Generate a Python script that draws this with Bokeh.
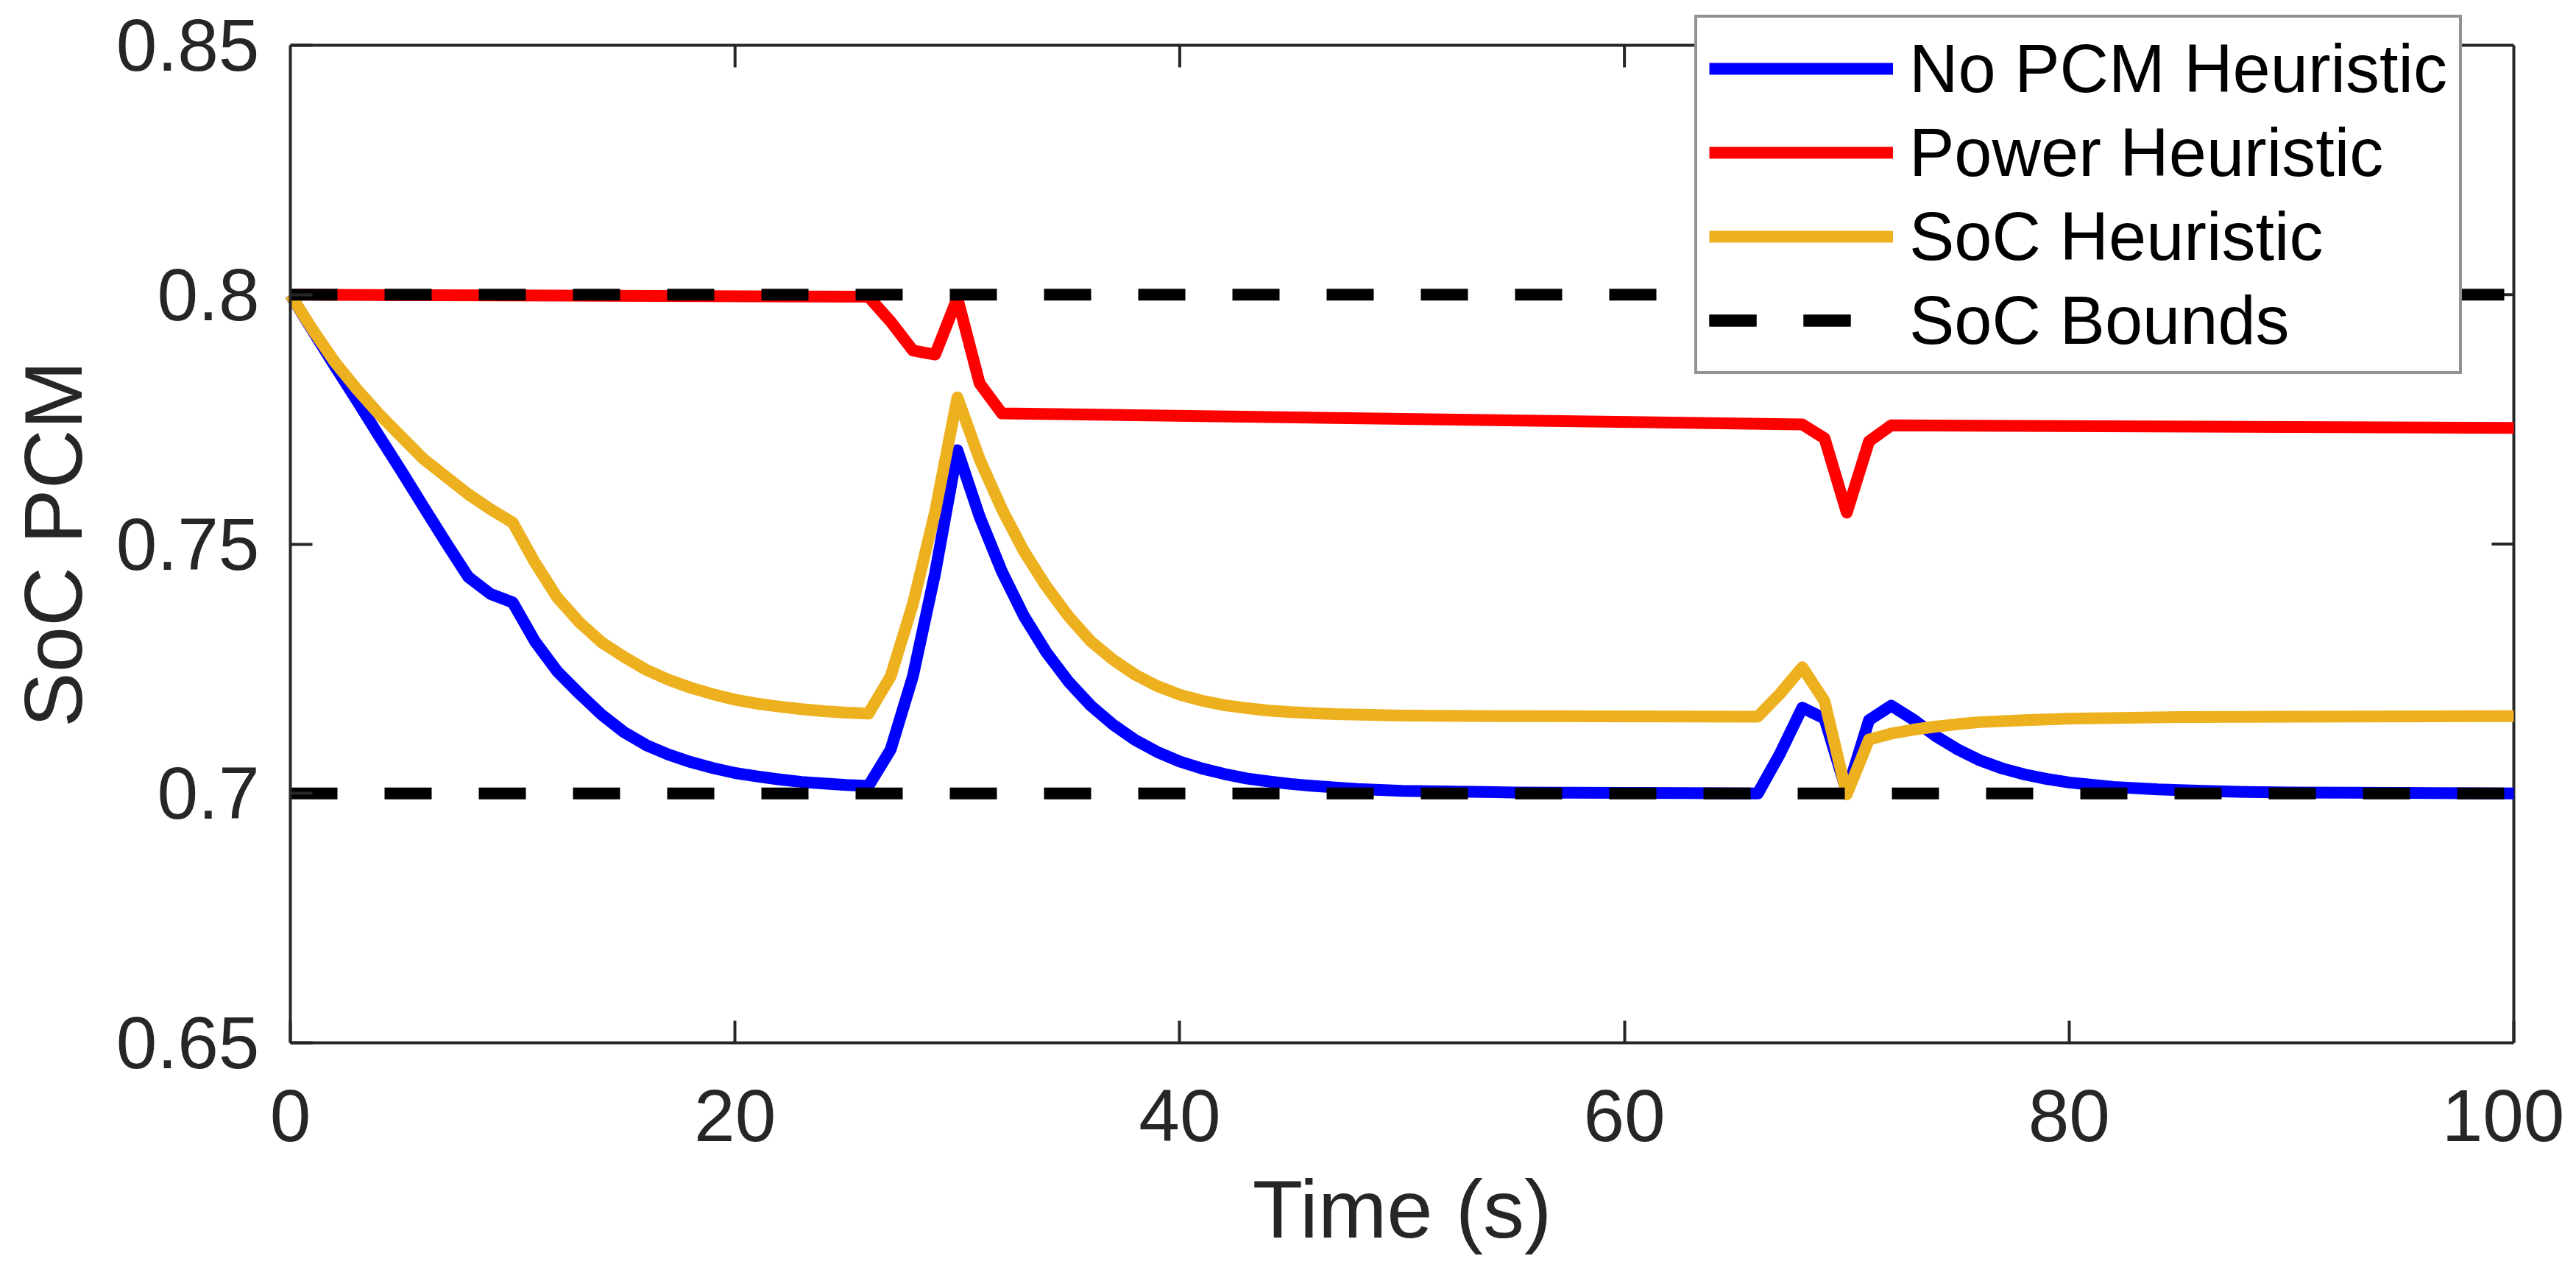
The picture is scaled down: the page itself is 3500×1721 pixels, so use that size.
from bokeh.plotting import figure
from bokeh.models import FixedTicker, Range1d, Legend, LegendItem, LinearAxis
from bokeh.embed import file_html
from bokeh.resources import INLINE

# ---- data ----
t_nopcm = [0, 1, 2, 3, 4, 5, 6, 7, 8, 9, 10, 11, 12, 13, 14, 15, 16, 17, 18, 19, 20,
           21, 22, 23, 24, 25, 26, 27, 28, 29, 30, 31, 32, 33, 34, 35, 36, 37, 38, 39, 40,
           41, 42, 43, 44, 45, 46, 47, 48, 49, 50, 55, 60, 66, 67, 68, 69, 70, 71, 72, 73,
           74, 75, 76, 77, 78, 79, 80, 82, 84, 86, 88, 90, 95, 100]
soc_nopcm = [0.800, 0.7928, 0.7857, 0.7787, 0.7716, 0.7646, 0.7574, 0.7503, 0.7434, 0.7400, 0.7383,
             0.7305, 0.7245, 0.7200, 0.7158, 0.7123, 0.7097, 0.7078, 0.7063, 0.7051, 0.7041,
             0.7034, 0.7028, 0.7023, 0.7020, 0.7017, 0.7015, 0.7088, 0.7235, 0.7442, 0.7688,
             0.7555, 0.7445, 0.7355, 0.7283, 0.7224, 0.7176, 0.7138, 0.7107, 0.7083, 0.7064,
             0.7050, 0.7039, 0.7030, 0.7024, 0.7019, 0.7015, 0.7012, 0.7009, 0.7007, 0.7005,
             0.7002, 0.7001, 0.7000, 0.7080, 0.7172, 0.7150, 0.7003, 0.7147, 0.7176, 0.7148,
             0.7115, 0.7088, 0.7066, 0.7050, 0.7038, 0.7029, 0.7022, 0.7013, 0.7008, 0.7005,
             0.7003, 0.7002, 0.7001, 0.7000]

t_power = [0, 26, 27, 28, 29, 30, 31, 32, 68, 69, 70, 71, 72, 100]
soc_power = [0.8000, 0.7996, 0.7946, 0.7888, 0.7880, 0.7993, 0.7822, 0.7762,
             0.7740, 0.7712, 0.7563, 0.7706, 0.7738, 0.7733]

t_soc = [0, 1, 2, 3, 4, 5, 6, 7, 8, 9, 10, 11, 12, 13, 14, 15, 16, 17, 18, 19, 20,
         21, 22, 23, 24, 25, 26, 27, 28, 29, 30, 31, 32, 33, 34, 35, 36, 37, 38, 39, 40,
         41, 42, 43, 44, 45, 47, 50, 55, 66, 67, 68, 69, 70, 71, 72, 73, 74, 75, 76, 78,
         80, 85, 90, 100]
soc_soc = [0.8000, 0.7930, 0.7865, 0.7810, 0.7760, 0.7715, 0.7670, 0.7635, 0.7600, 0.7570, 0.7543,
           0.7463, 0.7393, 0.7343, 0.7303, 0.7274, 0.7248, 0.7228, 0.7212, 0.7199, 0.7188,
           0.7180, 0.7174, 0.7169, 0.7165, 0.7162, 0.7160, 0.7235, 0.7380, 0.7565, 0.7794,
           0.7670, 0.7570, 0.7485, 0.7415, 0.7355, 0.7305, 0.7268, 0.7238, 0.7215, 0.7198,
           0.7186, 0.7177, 0.7171, 0.7166, 0.7163, 0.7159, 0.7156, 0.7155, 0.7154, 0.7200,
           0.7253, 0.7185, 0.6998, 0.7108, 0.7120, 0.7128, 0.7134, 0.7139, 0.7143, 0.7147,
           0.7150, 0.7153, 0.7154, 0.7155]

t_bounds = [0, 100]
soc_upper = [0.8, 0.8]
soc_lower = [0.7, 0.7]

x_min, x_max = 0, 100
y_min, y_max = 0.65, 0.85
x_ticks = [0, 20, 40, 60, 80, 100]
y_ticks = [0.65, 0.7, 0.75, 0.8, 0.85]
y_tick_labels = ["0.65", "0.7", "0.75", "0.8", "0.85"]
x_label = "Time (s)"
y_label = "SoC PCM"

series_names = ["No PCM Heuristic", "Power Heuristic", "SoC Heuristic", "SoC Bounds"]
series_colors = ["#0000FF", "#FF0000", "#EDB120", "#000000"]

FONT = "Liberation Sans"
AX = "#262626"

# ---- layout (pixels) ----
W, H = 3484, 1705
BOX_LEFT, BOX_RIGHT = 394, 3415        # axes box inside the canvas
BOX_TOP, BOX_BOTTOM = 61, 1416
px_per_x = (BOX_RIGHT - BOX_LEFT) / (x_max - x_min)
px_per_y = (BOX_BOTTOM - BOX_TOP) / (y_max - y_min)
# the drawing frame covers the whole canvas; the axes sit at fixed data positions
x_lo = x_min - BOX_LEFT / px_per_x
x_hi = x_max + (W - BOX_RIGHT) / px_per_x
y_lo = y_min - (H - BOX_BOTTOM) / px_per_y
y_hi = y_max + BOX_TOP / px_per_y
TICK = 30

p = figure(width=W, height=H,
           x_range=Range1d(x_lo, x_hi), y_range=Range1d(y_lo, y_hi),
           x_axis_type=None, y_axis_type=None,
           output_backend="svg", toolbar_location=None,
           min_border_left=0, min_border_right=0,
           min_border_top=0, min_border_bottom=0)
p.outline_line_color = None
p.background_fill_color = "white"
p.border_fill_color = "white"

xa = LinearAxis(fixed_location=y_min, ticker=FixedTicker(ticks=x_ticks), bounds=(x_min, x_max))
ya = LinearAxis(fixed_location=x_min, ticker=FixedTicker(ticks=y_ticks), bounds=(y_min, y_max))
ya.major_label_overrides = {v: s for v, s in zip(y_ticks, y_tick_labels)}
p.add_layout(xa, "below")
p.add_layout(ya, "left")

for ax in (xa, ya):
    ax.axis_line_color = AX
    ax.axis_line_width = 4
    ax.major_tick_in = TICK
    ax.major_tick_out = 0
    ax.major_tick_line_color = AX
    ax.major_tick_line_width = 4
    ax.minor_tick_line_color = None
    ax.major_label_text_font = FONT
    ax.major_label_text_font_size = "100px"
    ax.major_label_text_color = AX
    ax.axis_label_text_font = FONT
    ax.axis_label_text_font_size = "112px"
    ax.axis_label_text_font_style = "normal"
    ax.axis_label_text_color = AX

xa.major_label_standoff = 64
ya.major_label_standoff = 42
xa.axis_label = x_label
ya.axis_label = y_label
xa.axis_label_standoff = 27
ya.axis_label_standoff = 20

# top and right sides of the axes box, with inward ticks
p.segment(x0=[x_min, x_max], y0=[y_max, y_min], x1=[x_max, x_max], y1=[y_max, y_max],
          line_color=AX, line_width=4)
p.segment(x0=x_ticks[1:-1], y0=[y_max] * (len(x_ticks) - 2),
          x1=x_ticks[1:-1], y1=[y_max - TICK / px_per_y] * (len(x_ticks) - 2),
          line_color=AX, line_width=4)
p.segment(x0=[x_max] * (len(y_ticks) - 2), y0=y_ticks[1:-1],
          x1=[x_max - TICK / px_per_x] * (len(y_ticks) - 2), y1=y_ticks[1:-1],
          line_color=AX, line_width=4)

LW = 16
r_blue = p.line(t_nopcm, soc_nopcm, line_color=series_colors[0], line_width=LW, line_join="round")
r_red = p.line(t_power, soc_power, line_color=series_colors[1], line_width=LW, line_join="round")
r_yel = p.line(t_soc, soc_soc, line_color=series_colors[2], line_width=LW, line_join="round")
r_up = p.line(t_bounds, soc_upper, line_color=series_colors[3], line_width=LW, line_dash="64 64")
r_lo = p.line(t_bounds, soc_lower, line_color=series_colors[3], line_width=LW, line_dash="64 64")

legend = Legend(items=[
    LegendItem(label=series_names[0], renderers=[r_blue]),
    LegendItem(label=series_names[1], renderers=[r_red]),
    LegendItem(label=series_names[2], renderers=[r_yel]),
    LegendItem(label=series_names[3], renderers=[r_up, r_lo]),
])
# legend position measured from the frame's bottom-left corner (= canvas corner)
legend.location = (2302, H - 508)
legend.label_text_font = FONT
legend.label_text_font_size = "92px"
legend.label_text_color = "#000000"
legend.label_height = 106
legend.glyph_height = 106
legend.glyph_width = 250
legend.label_standoff = 22
legend.spacing = 8
legend.padding = 16
legend.margin = 0
legend.border_line_color = AX
legend.border_line_width = 4
legend.background_fill_color = "white"
legend.background_fill_alpha = 1.0
p.add_layout(legend, "center")

open("out.html", "w").write(file_html(p, INLINE))
